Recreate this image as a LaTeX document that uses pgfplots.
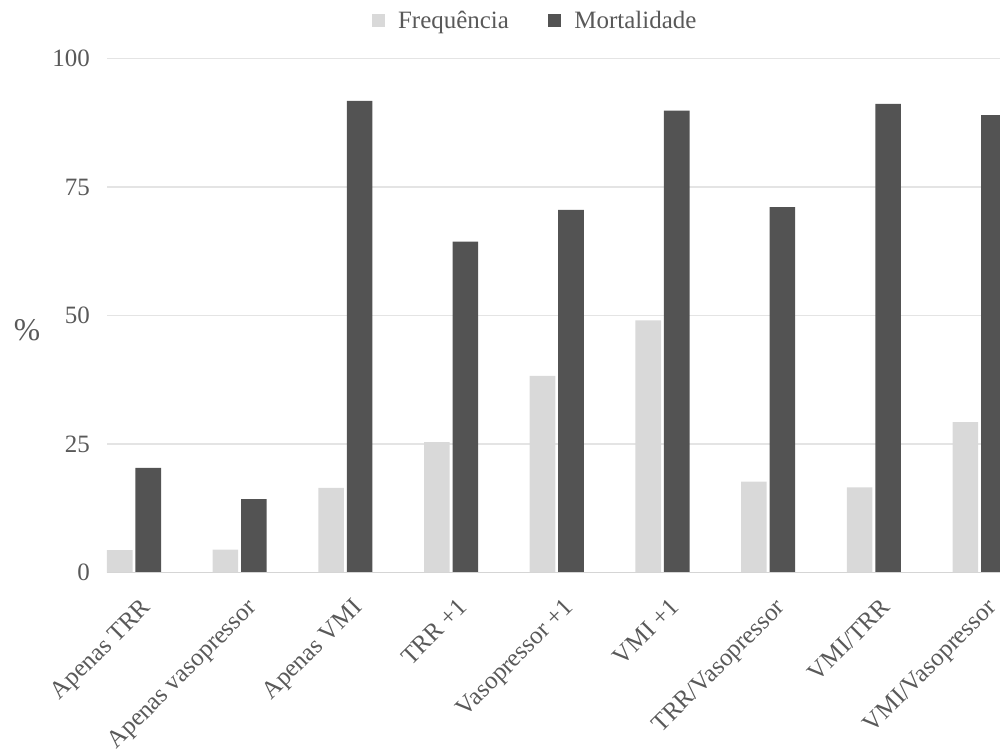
\documentclass[border=0pt]{standalone}
\usepackage{pgfplots}
\pgfplotsset{compat=1.18}
\usepackage{fontspec}
\setmainfont{Liberation Serif}

\definecolor{freqcol}{HTML}{D9D9D9}
\definecolor{mortcol}{HTML}{535353}
\definecolor{txtcol}{HTML}{595959}
\definecolor{gridcol}{HTML}{E4E4E4}
\definecolor{basecol}{HTML}{D5D5D5}

\begin{document}
\begin{tikzpicture}
\begin{axis}[
  at={(0,0)}, anchor=south west,
  scale only axis,
  width=17.86cm, height=10.28cm,
  ybar,
  bar width=0.512cm,
  xmin=-0.255, xmax=8.193,
  ymin=0, ymax=100,
  ytick={0,25,50,75,100},
  xtick={0,1,2,3,4,5,6,7,8},
  xticklabels={Apenas TRR, Apenas vasopressor, Apenas VMI, TRR +1, Vasopressor +1, VMI +1, TRR/Vasopressor, VMI/TRR, VMI/Vasopressor},
  /pgf/number format/assume math mode=true,
  font=\fontsize{14.2}{17}\selectfont,
  tick label style={text=txtcol},
  yticklabel style={xshift=-0.22cm},
  xticklabel style={inner sep=0pt, xshift=0.12cm, yshift=-0.48cm, rotate=45, anchor=north east},
  major tick length=0pt,
  ymajorgrids,
  grid style={gridcol, line width=0.9pt},
  axis x line*=bottom,
  axis y line*=left,
  axis line style={draw=none},
  ylabel={\%},
  ylabel style={rotate=-90, at={(axis description cs:-0.0896,0.472)}, anchor=center, text=txtcol, font=\fontsize{18}{21}\selectfont},
  legend columns=2,
  legend style={at={(axis description cs:0.4804,1.0735)}, anchor=center, draw=none, fill=none,
    font=\fontsize{14.2}{17}\selectfont, text=txtcol,
    /tikz/every even column/.append style={column sep=0.72cm}},
  legend image code/.code={\fill[#1] (0cm,-0.12cm) rectangle (0.25cm,0.13cm); \path (0.45cm,0cm);},
  clip=true,
]
% frequency of each support combination (%)
\addplot[fill=freqcol, draw=none, bar shift=-0.285cm] coordinates {
  (0,4.4) (1,4.5) (2,16.5) (3,25.4) (4,38.3) (5,49.1) (6,17.7) (7,16.6) (8,29.3)};
% mortality in each group (%)
\addplot[fill=mortcol, draw=none, bar shift=0.285cm] coordinates {
  (0,20.4) (1,14.3) (2,91.8) (3,64.4) (4,70.6) (5,89.9) (6,71.1) (7,91.2) (8,89.0)};
\legend{Frequência, Mortalidade}
\draw[basecol, line width=0.9pt] (rel axis cs:0,0) -- (rel axis cs:1,0);
\end{axis}
\pgfresetboundingbox
\useasboundingbox (-2.14cm,-3.606cm) rectangle (17.86cm,11.454cm);
\end{tikzpicture}
\end{document}
